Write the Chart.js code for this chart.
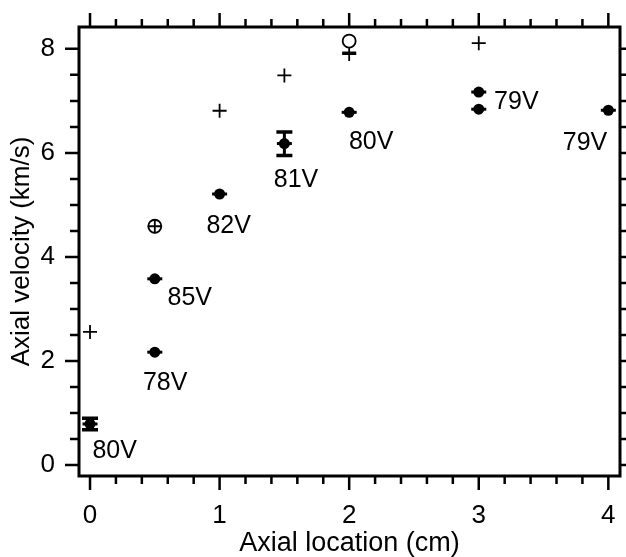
<!DOCTYPE html>
<html>
<head>
<meta charset="utf-8">
<script src="https://cdn.jsdelivr.net/npm/chart.js@4.4.1/dist/chart.umd.min.js"></script>
<style>
html,body{margin:0;padding:0;background:#fff;}
canvas{display:block;}
</style>
</head>
<body>
<canvas id="c" width="626" height="557"></canvas>
<script>
// ---- data ----
const dotX = [0, 0.5, 0.5, 1, 1.5, 2, 3, 3, 4];
const dotY = [0.79, 2.17, 3.58, 5.21, 6.18, 6.78, 7.17, 6.84, 6.82];
const plusX = [0, 0.5, 1, 1.5, 2, 3];
const plusY = [2.56, 4.59, 6.81, 7.49, 7.9, 8.11];
const circX = [0.5, 2];
const circY = [4.59, 8.15];
const barX = [2];
const barY = [7.92];
const errX = [0, 1.5];
const errLow = [0.68, 5.95];
const errHigh = [0.9, 6.4];
const labelText = ['80V', '78V', '85V', '82V', '81V', '80V', '79V', '79V'];
const labelX = [0.19, 0.58, 0.77, 1.07, 1.59, 2.17, 3.29, 3.82];
const labelY = [0.26, 1.57, 3.21, 4.60, 5.48, 6.20, 6.98, 6.18];
const xTickLabels = [0, 1, 2, 3, 4];
const yTickLabels = [0, 2, 4, 6, 8];
const xMinorTicks = [0.2, 0.4, 0.6, 0.8, 1.2, 1.4, 1.6, 1.8, 2.2, 2.4, 2.6, 2.8, 3.2, 3.4, 3.6, 3.8];
const yMinorTicks = [0.5, 1, 1.5, 2.5, 3, 3.5, 4.5, 5, 5.5, 6.5, 7, 7.5];
const xTitle = 'Axial location (cm)';
const yTitle = 'Axial velocity (km/s)';

const FONT = '"Liberation Sans", Arial, Helvetica, sans-serif';
const pts = (xs, ys) => xs.map((x, i) => ({x: x, y: ys[i]}));
const noPad = s => { s.paddingTop = 0; s.paddingBottom = 0; s.paddingLeft = 0; s.paddingRight = 0; };

const decor = {
  id: 'decor',
  afterDatasetsDraw(chart) {
    const ctx = chart.ctx, a = chart.chartArea;
    const xs = chart.scales.x, ys = chart.scales.y;
    ctx.save();
    ctx.strokeStyle = '#000';
    ctx.lineCap = 'butt';
    ctx.lineWidth = 2.5;
    const tickX = (v, len) => {
      const p = xs.getPixelForValue(v);
      ctx.beginPath();
      ctx.moveTo(p, a.bottom); ctx.lineTo(p, a.bottom + len);
      ctx.moveTo(p, a.top); ctx.lineTo(p, a.top - len);
      ctx.stroke();
    };
    const tickY = (v, len) => {
      const p = ys.getPixelForValue(v);
      ctx.beginPath();
      ctx.moveTo(a.left, p); ctx.lineTo(a.left - len, p);
      ctx.moveTo(a.right, p); ctx.lineTo(a.right + len, p);
      ctx.stroke();
    };
    xTickLabels.forEach(v => tickX(v, 14));
    xMinorTicks.forEach(v => tickX(v, 8));
    yTickLabels.forEach(v => tickY(v, 14));
    yMinorTicks.forEach(v => tickY(v, 9));
    ctx.lineWidth = 3;
    ctx.strokeRect(a.left, a.top, a.right - a.left, a.bottom - a.top);
    errX.forEach((x, i) => {
      const px = xs.getPixelForValue(x);
      const lo = ys.getPixelForValue(errLow[i]);
      const hi = ys.getPixelForValue(errHigh[i]);
      ctx.lineWidth = 3;
      ctx.beginPath();
      ctx.moveTo(px, lo); ctx.lineTo(px, hi);
      ctx.stroke();
      ctx.lineWidth = 3.5;
      ctx.beginPath();
      ctx.moveTo(px - 8, lo); ctx.lineTo(px + 8, lo);
      ctx.moveTo(px - 8, hi); ctx.lineTo(px + 8, hi);
      ctx.stroke();
    });
    ctx.fillStyle = '#000';
    ctx.font = '25px ' + FONT;
    ctx.textAlign = 'center';
    ctx.textBaseline = 'middle';
    labelText.forEach((t, i) => {
      ctx.fillText(t, xs.getPixelForValue(labelX[i]), ys.getPixelForValue(labelY[i]));
    });
    ctx.restore();
  }
};

new Chart(document.getElementById('c'), {
  type: 'scatter',
  data: {
    datasets: [
      {data: pts(dotX, dotY), pointStyle: 'circle', pointRadius: 5.5, backgroundColor: '#000', borderColor: '#000', borderWidth: 0, clip: false},
      {data: pts(dotX, dotY), pointStyle: 'line', pointRadius: 7.5, borderColor: '#000', borderWidth: 3, clip: false},
      {data: pts(plusX, plusY), pointStyle: 'cross', pointRadius: 7, borderColor: '#000', borderWidth: 1.8, clip: false},
      {data: pts(circX, circY), pointStyle: 'circle', pointRadius: 6.5, backgroundColor: 'rgba(0,0,0,0)', borderColor: '#000', borderWidth: 1.8, clip: false},
      {data: pts(barX, barY), pointStyle: 'line', pointRadius: 7, borderColor: '#000', borderWidth: 3, clip: false}
    ]
  },
  options: {
    responsive: false,
    animation: false,
    events: [],
    layout: {autoPadding: false, padding: {top: 27, right: 6, left: 0, bottom: 0}},
    plugins: {legend: {display: false}, tooltip: {enabled: false}},
    scales: {
      x: {
        type: 'linear', position: 'bottom',
        min: -0.085, max: 4.09,
        grid: {display: false, drawTicks: false},
        border: {display: false},
        afterBuildTicks: s => { s.ticks = xTickLabels.map(v => ({value: v})); },
        afterFit: s => { s.height = 81; noPad(s); },
        ticks: {color: '#000', padding: 24, maxRotation: 0, font: {family: FONT, size: 26}, callback: v => String(v)},
        title: {display: true, text: xTitle, color: '#000', font: {family: FONT, size: 27, lineHeight: 1}, padding: {top: 0, bottom: 0}}
      },
      y: {
        type: 'linear', position: 'left',
        min: -0.21, max: 8.42,
        grid: {display: false, drawTicks: false},
        border: {display: false},
        afterBuildTicks: s => { s.ticks = yTickLabels.map(v => ({value: v})); },
        afterFit: s => { s.width = 79; noPad(s); },
        ticks: {color: '#000', padding: 24, font: {family: FONT, size: 26}, callback: v => String(v)},
        title: {display: true, text: yTitle, color: '#000', font: {family: FONT, size: 26, lineHeight: 1}, padding: {top: 9, bottom: 0}}
      }
    }
  },
  plugins: [decor]
});
</script>
</body>
</html>
